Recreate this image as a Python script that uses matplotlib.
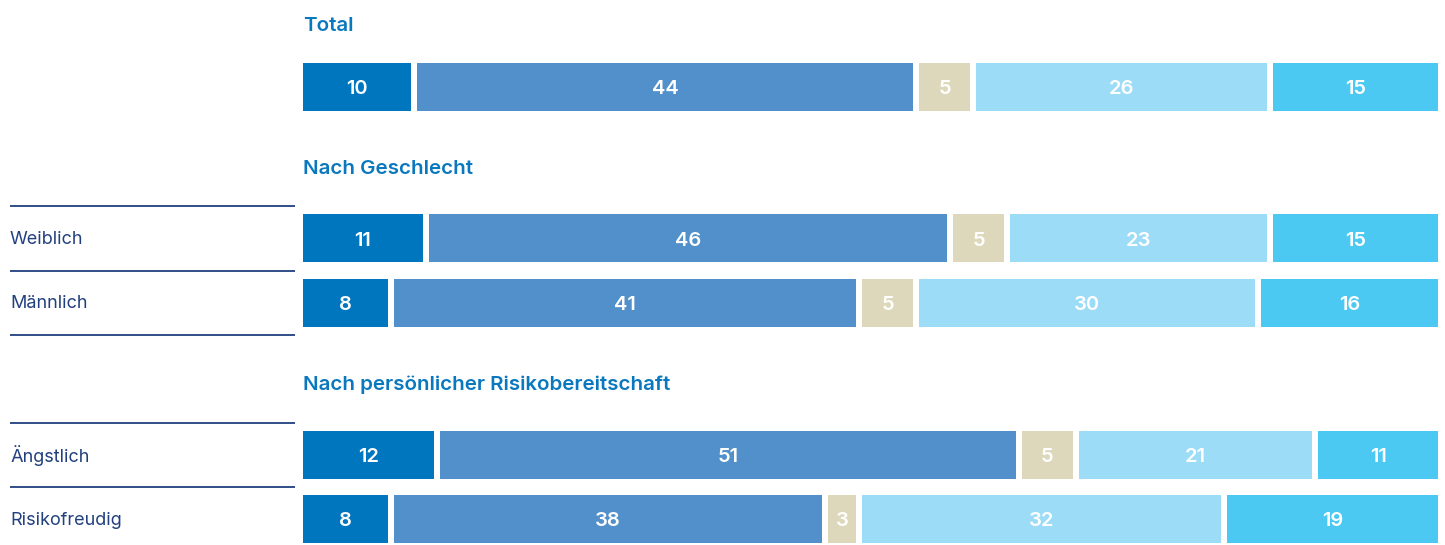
import matplotlib
matplotlib.use("Agg")
import matplotlib.pyplot as plt
import numpy as np

# ---- data ----
sections = ["Total", "Nach Geschlecht", "Nach persönlicher Risikobereitschaft"]
row_labels = ["", "Weiblich", "Männlich", "Ängstlich", "Risikofreudig"]
row_section = [0, 1, 1, 2, 2]
s1 = [10, 11, 8, 12, 8]
s2 = [44, 46, 41, 51, 38]
s3 = [5, 5, 5, 5, 3]
s4 = [26, 23, 30, 21, 32]
s5 = [15, 15, 16, 11, 19]
series = [s1, s2, s3, s4, s5]
colors = ["#0076BF", "#5190CB", "#DDD8BB", "#9DDCF7", "#4BC9F3"]

# ---- layout (pixel units) ----
W, H = 1445, 545
row_y = [87, 238, 302.5, 454.5, 519]
bar_h = 48
header_y = [24, 167, 383]
bar_x0, bar_x1 = 303, 1444
gap_px = 6

fig = plt.figure(figsize=(W / 100, H / 100), dpi=100)
bg = fig.add_axes([0, 0, 1, 1])
bg.set_xlim(0, W)
bg.set_ylim(H, 0)
bg.axis("off")

ax = fig.add_axes([bar_x0 / W, 0, (bar_x1 - bar_x0) / W, 1])
ax.set_xlim(0, 100)
ax.set_ylim(H, 0)
ax.axis("off")
gap = gap_px / (bar_x1 - bar_x0) * 100

font = "Inter"
head_col = "#0A78BE"
label_col = "#22407F"

for i, y in enumerate(row_y):
    left = 0
    for k, s in enumerate(series):
        v = s[i]
        ax.barh(y, v - gap, left=left, height=bar_h, color=colors[k], edgecolor="none")
        ax.text(left + (v - gap) / 2, y + 0.5, str(v), ha="center", va="center_baseline",
                color="white", fontsize=14.5, fontfamily=font, fontweight="semibold")
        left += v

for j, t in enumerate(sections):
    bg.text(bar_x0, header_y[j], t, ha="left", va="center_baseline", color=head_col,
            fontsize=14.8, fontweight="semibold", fontfamily=font)

# left labels and separator lines
for i, lab in enumerate(row_labels):
    if not lab:
        continue
    y = row_y[i]
    bg.text(10, y - 0.5, lab, ha="left", va="center_baseline", color=label_col,
            fontsize=13, fontfamily=font)
    top = y - 32
    bg.plot([10, 295], [top, top], color=label_col, lw=1.3, solid_capstyle="butt")
    last_in_sec = (i == len(row_labels) - 1) or (row_section[i + 1] != row_section[i])
    if last_in_sec:
        bg.plot([10, 295], [y + 32, y + 32], color=label_col, lw=1.3, solid_capstyle="butt")

fig.savefig("out.png", dpi=100)
